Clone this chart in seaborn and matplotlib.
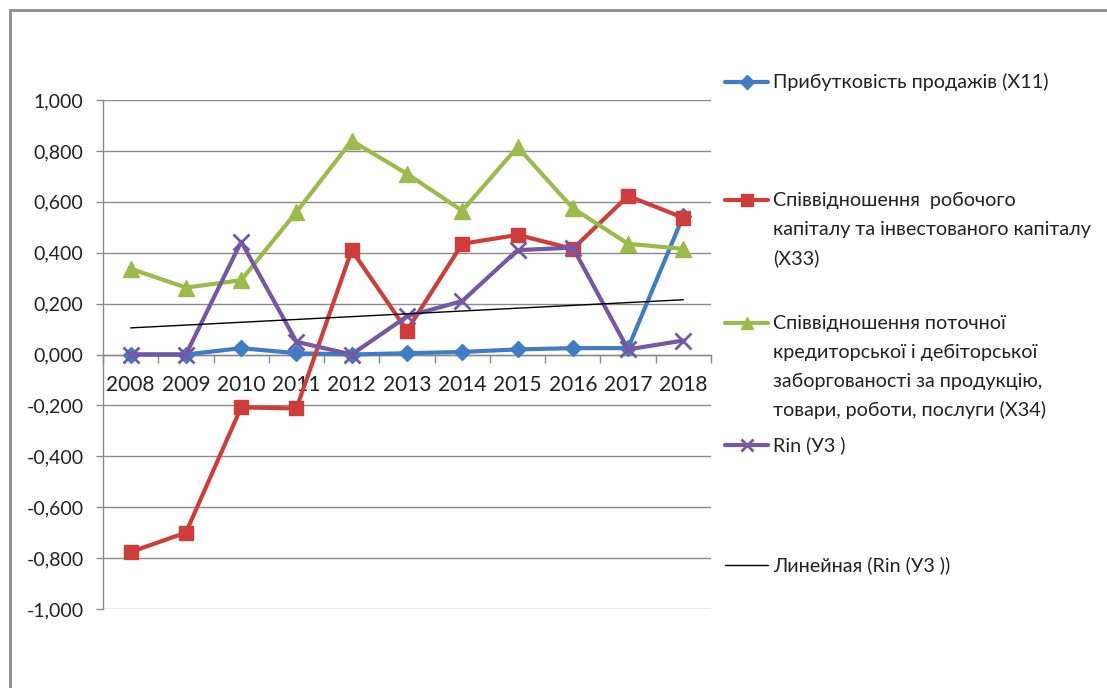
import numpy as np
import pandas as pd
import matplotlib
matplotlib.use("Agg")
import matplotlib.pyplot as plt
from matplotlib.lines import Line2D
from matplotlib.patches import Rectangle
import seaborn as sns

# ---- data ----
years = ["2008", "2009", "2010", "2011", "2012", "2013", "2014", "2015", "2016", "2017", "2018"]
x11 = [0.000, 0.000, 0.025, 0.005, 0.000, 0.005, 0.010, 0.020, 0.025, 0.025, 0.545]
x33 = [-0.776, -0.700, -0.208, -0.212, 0.410, 0.094, 0.435, 0.470, 0.415, 0.623, 0.537]
x34 = [0.337, 0.263, 0.292, 0.560, 0.840, 0.710, 0.565, 0.815, 0.575, 0.435, 0.415]
rin = [0.000, 0.000, 0.443, 0.050, 0.000, 0.150, 0.210, 0.410, 0.420, 0.020, 0.055]

labels = [
    "Прибутковість продажів (X11)",
    "Співвідношення  робочого\nкапіталу та інвестованого капіталу\n(X33)",
    "Співвідношення поточної\nкредиторської і дебіторської\nзаборгованості за продукцію,\nтовари, роботи, послуги (X34)",
    "Rin (У3 )",
    "Линейная (Rin (У3 ))",
]
y_ticks = [-1.0, -0.8, -0.6, -0.4, -0.2, 0.0, 0.2, 0.4, 0.6, 0.8, 1.0]

sns.set_theme(style="white")
plt.rcParams["font.family"] = ["Lato", "DejaVu Sans"]

W, H = 1107, 688
fig = plt.figure(figsize=(W / 100, H / 100), dpi=100)
fig.patch.set_facecolor("white")

# outer chart frame
fig.patches.append(Rectangle((10 / W, -0.1), 1.2, 1 - 10 / H + 0.1, transform=fig.transFigure,
                             fill=False, edgecolor="#8c8c8c", linewidth=2))

ax = fig.add_axes([103 / W, 1 - 609 / H, (711 - 103) / W, (609 - 100) / H])
ax.set_facecolor("white")

pos = np.arange(len(years))
df = pd.DataFrame({"pos": pos, "x11": x11, "x33": x33, "x34": x34, "rin": rin})

styles = {
    "x11": dict(color="#3f7cc4", marker="D", markersize=8.5, mew=1),
    "x33": dict(color="#cf3d3b", marker="s", markersize=10, mew=1),
    "x34": dict(color="#9bbb4a", marker="^", markersize=11, mew=1),
    "rin": dict(color="#7557a3", marker="x", markersize=11, mew=2),
}
for key, st in styles.items():
    sns.lineplot(data=df, x="pos", y=key, ax=ax, color=st["color"], linewidth=3,
                 marker=st["marker"], markersize=st["markersize"],
                 markeredgecolor=st["color"], markerfacecolor=st["color"],
                 markeredgewidth=st["mew"], legend=False, zorder=3)

# linear trend of Rin
coef = np.polyfit(pos, rin, 1)
trend = pd.DataFrame({"pos": pos, "fit": np.polyval(coef, pos)})
sns.lineplot(data=trend, x="pos", y="fit", ax=ax, color="black", linewidth=1, legend=False, zorder=4)

# spines (set position first: it resets the tick objects)
for s in ["top", "right"]:
    ax.spines[s].set_visible(False)
ax.spines["left"].set_color("#8a8a8a")
ax.spines["left"].set_linewidth(1)
ax.spines["bottom"].set_position(("data", 0))
ax.spines["bottom"].set_color("#8a8a8a")
ax.spines["bottom"].set_linewidth(1)

# axes styling
ax.set_xlim(-0.5, len(years) - 0.5)
ax.set_ylim(-1.0, 1.0)
ax.set_yticks(y_ticks)
ax.set_yticklabels([f"{v:.3f}".replace(".", ",") for v in y_ticks])
ax.yaxis.grid(True, color="#8a8a8a", linewidth=1)
ax.set_axisbelow(True)
ax.tick_params(axis="y", direction="out", length=5, width=1, color="#8a8a8a", pad=9, left=True,
               labelsize=14, labelcolor="#222222")

ax.set_xticks(pos)
ax.set_xticklabels(years)
ax.set_xticks(np.arange(-0.5, len(years)), minor=True)
ax.tick_params(axis="x", which="major", length=0, pad=15, labelsize=15, labelcolor="#222222")
ax.tick_params(axis="x", which="minor", direction="out", length=6, width=1, color="#8a8a8a", bottom=True)
ax.set_xlabel("")
ax.set_ylabel("")

# legend drawn at the right of the plot area
entry_y = [82, 200, 323, 445, 565]
line_step = 29
handle_x0, handle_x1, text_x = 725, 768, 773
keys = ["x11", "x33", "x34", "rin"]
for i, (lab, yy) in enumerate(zip(labels, entry_y)):
    yf = 1 - yy / H
    if i < 4:
        st = styles[keys[i]]
        fig.add_artist(Line2D([handle_x0 / W, handle_x1 / W], [yf, yf], transform=fig.transFigure,
                              color=st["color"], linewidth=3))
        fig.add_artist(Line2D([(handle_x0 + handle_x1) / 2 / W], [yf], transform=fig.transFigure,
                              color=st["color"], marker=st["marker"],
                              markersize=st["markersize"] * 0.85, markeredgewidth=st["mew"],
                              linestyle="none"))
    else:
        fig.add_artist(Line2D([handle_x0 / W, handle_x1 / W], [yf, yf], transform=fig.transFigure,
                              color="black", linewidth=1))
    for j, line in enumerate(lab.split("\n")):
        fig.text(text_x / W, 1 - (yy + j * line_step) / H, line, fontsize=14.2,
                 color="#222222", va="center", ha="left")

fig.savefig("out.png", dpi=100, facecolor="white")
